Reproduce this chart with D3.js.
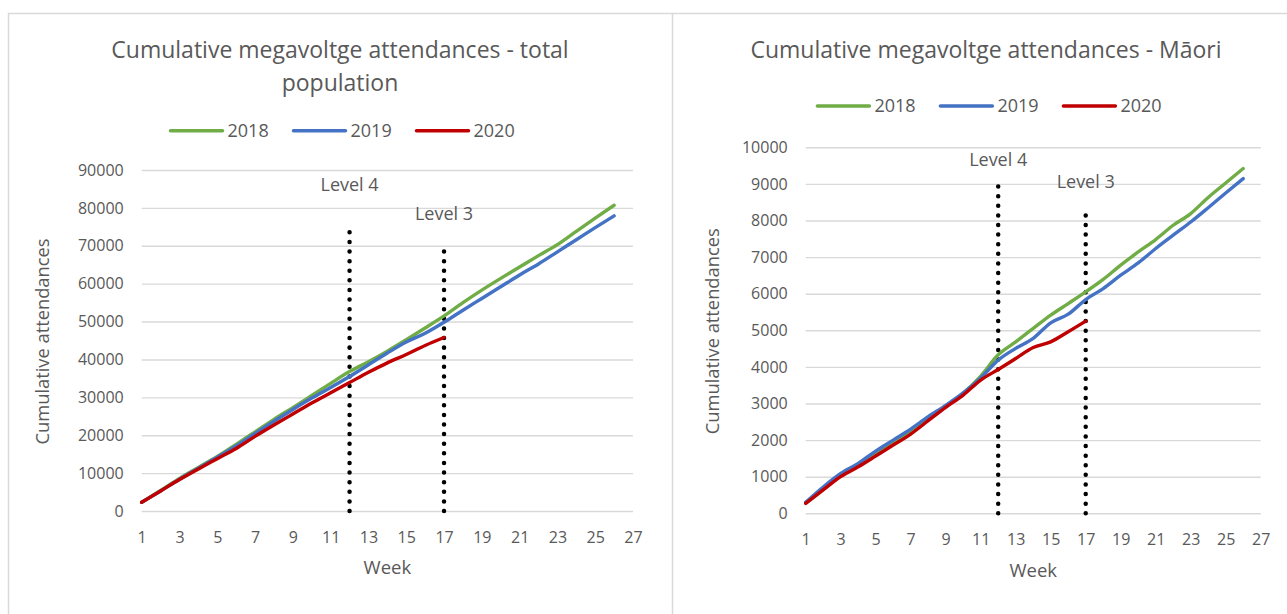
<!DOCTYPE html>
<html>
<head>
<meta charset="utf-8">
<script src="https://cdn.jsdelivr.net/npm/d3@7"></script>
<style>
  html, body { margin: 0; padding: 0; background: #fff; }
  svg { display: block; }
  text { font-family: "Open Sans", "DejaVu Sans", sans-serif; fill: #595959; }
</style>
</head>
<body>
<svg id="chart" width="1287" height="614"></svg>
<script>
// ---------------- DATA ----------------
const weeks = d3.range(1, 27);            // 1..26 with data
const weekTicks = [1,3,5,7,9,11,13,15,17,19,21,23,25,27];
const seriesNames = ["2018", "2019", "2020"];
const seriesColors = ["#70ad47", "#4472c4", "#c00000"];

// Total population
const total2018 = [2300,5400,8600,11500,14400,17600,20900,24200,27300,30500,33700,36800,39400,42200,45200,48300,51500,55000,58300,61400,64400,67400,70300,73800,77300,80700];
const total2019 = [2300,5300,8400,11300,14200,17200,20500,23700,26800,29800,32600,35500,38600,41700,44600,46900,49800,53000,56100,59200,62300,65200,68400,71600,74800,77900];
const total2020 = [2300,5300,8300,11100,13800,16500,19700,22700,25600,28500,31200,33900,36600,39100,41300,43700,45800];
const totalTicks = [0,10000,20000,30000,40000,50000,60000,70000,80000,90000];

// Maori
const maori2018 = [290,650,1030,1320,1640,1950,2250,2600,2920,3280,3750,4330,4685,5050,5415,5730,6050,6390,6780,7140,7480,7870,8190,8630,9025,9420];
const maori2019 = [300,720,1090,1365,1700,2000,2300,2640,2950,3290,3700,4185,4505,4780,5205,5440,5840,6140,6505,6840,7235,7600,7960,8350,8750,9145];
const maori2020 = [270,640,1000,1270,1565,1865,2165,2530,2895,3230,3640,3930,4230,4530,4685,4960,5250];
const maoriTicks = [0,1000,2000,3000,4000,5000,6000,7000,8000,9000,10000];

// Alert level markers
const levelNames = ["Level 4", "Level 3"];
const levelWeeks = [12, 17];
const levelTopsTotal = [76000, 68700];
const levelTopsMaori = [8950, 8150];

// ---------------- DRAW ----------------
const svg = d3.select("#chart");
const grey = "#d9d9d9";

// panel borders
svg.append("path").attr("d", "M8.5,700 V13.5 H1300").attr("fill", "none").attr("stroke", grey).attr("stroke-width", 1.5);
svg.append("line").attr("x1", 672.5).attr("x2", 672.5).attr("y1", 13.5).attr("y2", 700).attr("stroke", grey).attr("stroke-width", 1.5);

function drawChart(cfg) {
  const g = svg.append("g");
  const x = d3.scaleLinear().domain([1, 27]).range([cfg.x0, cfg.x1]);
  const y = d3.scaleLinear().domain([0, cfg.yMax]).range([cfg.y0, cfg.y1]);

  // y gridlines + labels
  const ya = g.append("g").attr("transform", `translate(${cfg.x0},0)`)
    .call(d3.axisLeft(y).tickValues(cfg.yTicks).tickSize(-(cfg.x1 - cfg.x0)).tickPadding(18).tickFormat(d3.format("d")));
  ya.select(".domain").remove();
  ya.selectAll(".tick line").attr("stroke", grey).attr("stroke-width", 1.4);
  ya.selectAll(".tick text").attr("font-size", 16).attr("fill", "#595959").style("font-family", "'Open Sans', sans-serif");

  // x labels
  const xa = g.append("g").attr("transform", `translate(0,${cfg.y0})`)
    .call(d3.axisBottom(x).tickValues(weekTicks).tickSize(0).tickFormat(d3.format("d")));
  xa.select(".domain").remove();
  xa.selectAll(".tick text").attr("y", 26).attr("dy", "0.35em").attr("font-size", 16).attr("fill", "#595959").style("font-family", "'Open Sans', sans-serif");

  // level marker lines
  levelWeeks.forEach((w, i) => {
    g.append("line")
      .attr("x1", x(w)).attr("x2", x(w))
      .attr("y1", y(0)).attr("y2", y(cfg.levelTops[i]))
      .attr("stroke", "#000").attr("stroke-width", 4.5)
      .attr("stroke-linecap", "round").attr("stroke-dasharray", "0.01 9.6");
    g.append("text").attr("x", x(w)).attr("y", cfg.levelLabelY[i]).attr("dy", "0.35em")
      .attr("text-anchor", "middle").attr("font-size", 18).text(levelNames[i]);
  });

  // series lines
  const line = d3.line().x((d, i) => x(weeks[i])).y(d => y(d)).curve(d3.curveMonotoneX);
  cfg.series.forEach((s, i) => {
    g.append("path").datum(s).attr("d", line)
      .attr("fill", "none").attr("stroke", seriesColors[i]).attr("stroke-width", 3.4)
      .attr("stroke-linejoin", "round").attr("stroke-linecap", "round");
  });

  // title
  cfg.title.forEach((t, i) => {
    g.append("text").attr("x", cfg.titleX).attr("y", cfg.titleY + i * 33).attr("dy", "0.35em")
      .attr("text-anchor", "middle").attr("font-size", 23).text(t);
  });

  // legend
  seriesNames.forEach((n, i) => {
    const lx = cfg.legendX + i * 123;
    g.append("line").attr("x1", lx).attr("x2", lx + 52).attr("y1", cfg.legendY).attr("y2", cfg.legendY)
      .attr("stroke", seriesColors[i]).attr("stroke-width", 3.5).attr("stroke-linecap", "round");
    g.append("text").attr("x", lx + 57).attr("y", cfg.legendY).attr("dy", "0.35em")
      .attr("font-size", 18).text(n);
  });

  // axis titles
  g.append("text").attr("transform", `translate(${cfg.yTitleX},${(cfg.y0 + cfg.y1) / 2 + 1}) rotate(-90)`)
    .attr("dy", "0.35em").attr("text-anchor", "middle").attr("font-size", 18.3).text("Cumulative attendances");
  g.append("text").attr("x", (cfg.x0 + cfg.x1) / 2).attr("y", cfg.y0 + 57).attr("dy", "0.35em")
    .attr("text-anchor", "middle").attr("font-size", 18.5).text("Week");
}

drawChart({
  x0: 141.7, x1: 633, y0: 511, y1: 170, yMax: 90000, yTicks: totalTicks,
  series: [total2018, total2019, total2020],
  levelTops: levelTopsTotal, levelLabelY: [185, 214],
  title: ["Cumulative megavoltge attendances - total", "population"], titleX: 340, titleY: 50,
  legendX: 170.5, legendY: 130.7, yTitleX: 43
});

drawChart({
  x0: 805.7, x1: 1260.7, y0: 513.3, y1: 147.3, yMax: 10000, yTicks: maoriTicks,
  series: [maori2018, maori2019, maori2020],
  levelTops: levelTopsMaori, levelLabelY: [160, 182],
  title: ["Cumulative megavoltge attendances - Māori"], titleX: 986, titleY: 50,
  legendX: 817.4, legendY: 106, yTitleX: 713
});
</script>
</body>
</html>
